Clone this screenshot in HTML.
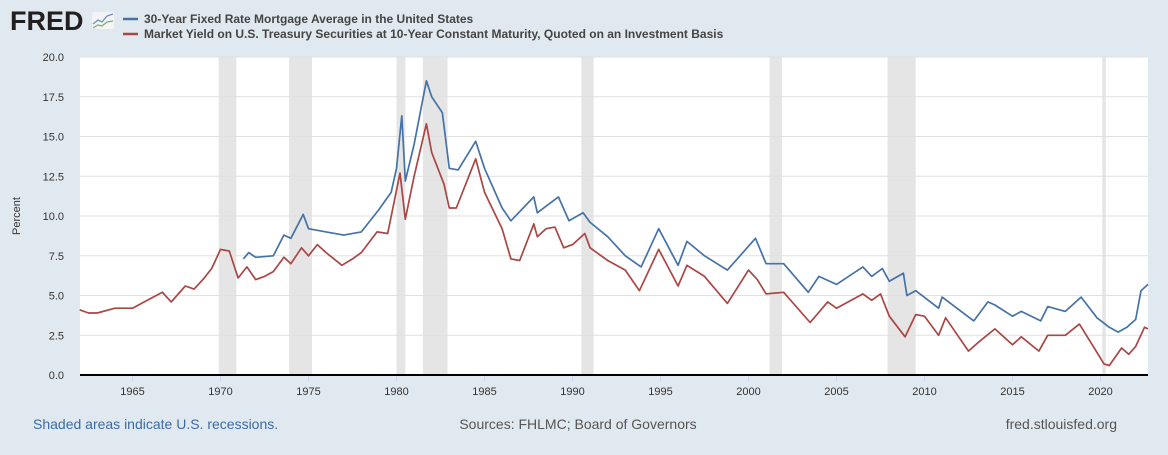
<!DOCTYPE html>
<html><head><meta charset="utf-8"><style>
body{margin:0;width:1168px;height:450px;background:#e1e9f0;font-family:"Liberation Sans",sans-serif;overflow:hidden}
</style></head><body>
<svg width="1168" height="450">
<text x="10" y="30" font-size="27" font-weight="bold" fill="#231f20">FRED</text>
<g><rect x="92" y="12" width="22" height="17" fill="#f2f4f6" rx="2"/><polyline points="93,24 98,20 102,22 107,16 113,14" fill="none" stroke="#6b8fbf" stroke-width="1.3"/><polyline points="93,28 98,25 102,26 107,22 113,21" fill="none" stroke="#7fb36a" stroke-width="1.3"/></g>
<g>
<line x1="123" y1="19" x2="138" y2="19" stroke="#4572a7" stroke-width="2.5"/>
<text x="144" y="23" font-size="12" font-weight="bold" fill="#444">30-Year Fixed Rate Mortgage Average in the United States</text>
<line x1="123" y1="34" x2="138" y2="34" stroke="#aa4643" stroke-width="2.5"/>
<text x="144" y="38" font-size="12" font-weight="bold" fill="#444">Market Yield on U.S. Treasury Securities at 10-Year Constant Maturity, Quoted on an Investment Basis</text>
</g>
<rect x="80" y="57" width="1068" height="318" fill="#fff"/>
<g id="rec"></g><g id="grid"></g><g id="lines"></g><g id="axes"></g>
<text x="20" y="216" font-size="11" fill="#333" transform="rotate(-90 20 216)" text-anchor="middle">Percent</text>
<text x="33" y="429" font-size="14" fill="#3c6aa8">Shaded areas indicate U.S. recessions.</text>
<text x="578" y="429" font-size="14" fill="#555" text-anchor="middle">Sources: FHLMC; Board of Governors</text>
<text x="1117" y="429" font-size="14" fill="#555" text-anchor="end">fred.stlouisfed.org</text>
</svg>
<script>
const recessions=[[1969.9,1970.9],[1973.9,1975.2],[1980.0,1980.5],[1981.5,1982.9],[1990.5,1991.2],[2001.2,2001.9],[2007.9,2009.5],[2020.1,2020.3]];
const yTicks=[0,2.5,5,7.5,10,12.5,15,17.5,20];
const xTicks=[1965,1970,1975,1980,1985,1990,1995,2000,2005,2010,2015,2020];
const treasuryDates=[1962,1962.5,1963,1964,1965,1966,1966.7,1967.2,1968,1968.5,1969,1969.5,1970,1970.5,1971,1971.5,1972,1972.5,1973,1973.6,1974,1974.6,1975,1975.5,1976,1976.9,1977.5,1978,1978.9,1979.5,1980.2,1980.5,1981,1981.7,1982,1982.7,1983,1983.4,1984.5,1985,1986,1986.5,1987,1987.8,1988,1988.5,1989,1989.5,1990,1990.7,1991,1992,1993,1993.8,1994.9,1996,1996.5,1997.5,1998.8,2000,2000.5,2001,2002,2003.5,2004.5,2005,2006.5,2007,2007.5,2008,2008.9,2009.5,2010,2010.8,2011.2,2012.5,2013,2014,2015,2015.5,2016.5,2017,2018,2018.8,2019.7,2020.2,2020.5,2021.2,2021.6,2022,2022.5,2022.7];
const treasuryValues=[4.1,3.9,3.9,4.2,4.2,4.8,5.2,4.6,5.6,5.4,6.0,6.7,7.9,7.8,6.1,6.8,6.0,6.2,6.5,7.4,7.0,8.0,7.5,8.2,7.7,6.9,7.3,7.7,9.0,8.9,12.7,9.8,12.5,15.8,14.0,12.0,10.5,10.5,13.6,11.5,9.2,7.3,7.2,9.5,8.7,9.2,9.3,8.0,8.2,8.9,8.0,7.2,6.6,5.3,7.9,5.6,6.9,6.2,4.5,6.6,6.0,5.1,5.2,3.3,4.6,4.2,5.1,4.7,5.1,3.7,2.4,3.8,3.7,2.5,3.6,1.5,2.0,2.9,1.9,2.4,1.5,2.5,2.5,3.2,1.6,0.7,0.6,1.7,1.3,1.8,3.0,2.9];
const mortgageDates=[1971.3,1971.6,1972,1973,1973.6,1974,1974.7,1975,1976,1977,1978,1979,1979.7,1980,1980.3,1980.5,1981,1981.7,1982,1982.6,1983,1983.5,1984.5,1985,1986,1986.5,1987.8,1988,1989.2,1989.8,1990.6,1991,1992,1993,1993.9,1994.9,1996,1996.5,1997.5,1998.8,2000.4,2001,2002,2003.4,2004,2005,2006.5,2007,2007.6,2008,2008.8,2009,2009.5,2010.8,2011,2012.8,2013.6,2014,2015,2015.5,2016.6,2017,2018,2018.9,2019.8,2020.5,2021,2021.5,2022,2022.3,2022.7];
const mortgageValues=[7.3,7.7,7.4,7.5,8.8,8.6,10.1,9.2,9.0,8.8,9.0,10.4,11.5,13.0,16.3,12.2,14.5,18.5,17.5,16.5,13.0,12.9,14.7,13.0,10.5,9.7,11.2,10.2,11.2,9.7,10.2,9.6,8.7,7.5,6.8,9.2,6.9,8.4,7.5,6.6,8.6,7.0,7.0,5.2,6.2,5.7,6.8,6.2,6.7,5.9,6.4,5.0,5.3,4.2,4.9,3.4,4.6,4.4,3.7,4.0,3.4,4.3,4.0,4.9,3.6,3.0,2.7,3.0,3.5,5.3,5.7];
const X=t=>132.5+(t-1965)*17.6, Y=v=>375-v*15.9;
const NS='http://www.w3.org/2000/svg';
function mk(tag,attrs,parent,txt){const e=document.createElementNS(NS,tag);for(const k in attrs)e.setAttribute(k,attrs[k]);if(txt!==undefined)e.textContent=txt;document.getElementById(parent).appendChild(e);return e;}
recessions.forEach(r=>{const e=mk('rect',{x:X(r[0]),y:57,width:X(r[1])-X(r[0]),height:318,fill:'#e5e5e5'},'rec');

});
yTicks.forEach(v=>{if(v>0){const g=mk('line',{x1:80,x2:1148,y1:Y(v),y2:Y(v),stroke:'#e0e0e0','stroke-width':1},'grid');

}
const t=mk('text',{x:64,y:Y(v)+4,'font-size':11,fill:'#333','text-anchor':'end'},'axes',v.toFixed(1));

});
xTicks.forEach(v=>{mk('line',{x1:X(v),x2:X(v),y1:375,y2:381,stroke:'#ccd6eb'},'axes');
const t=mk('text',{x:X(v),y:395,'font-size':11,fill:'#333','text-anchor':'middle'},'axes',v);

});
const ax=mk('line',{x1:80,x2:1148,y1:375,y2:375,stroke:'#000','stroke-width':2},'axes');


function series(d,v,c,name){const p=mk('polyline',{points:d.map((t,i)=>X(t).toFixed(1)+','+Y(v[i]).toFixed(1)).join(' '),fill:'none',stroke:c,'stroke-width':1.7,'stroke-linejoin':'round'},'lines');

}
series(treasuryDates,treasuryValues,'#aa4643','treasury-line');
series(mortgageDates,mortgageValues,'#4572a7','mortgage-line');
</script>
</body></html>
